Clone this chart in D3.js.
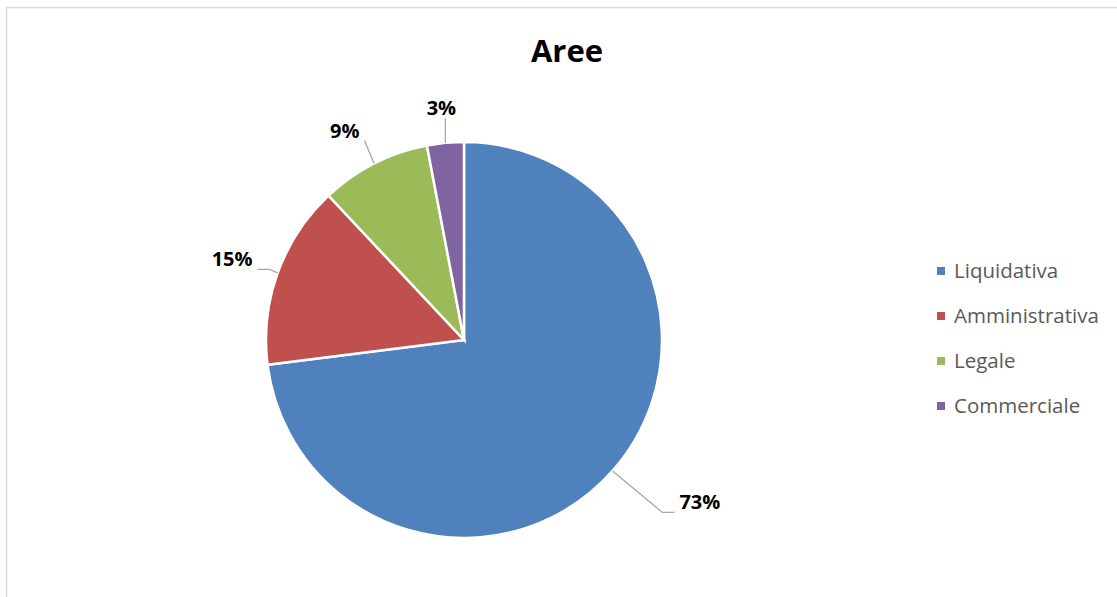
<!DOCTYPE html>
<html>
<head>
<meta charset="utf-8">
<script src="https://cdn.jsdelivr.net/npm/d3@7"></script>
<style>
  body { margin: 0; background: #fff; }
  text { font-family: "Open Sans", Lato, sans-serif; }
</style>
</head>
<body>
<div class="container"></div>
<script>
const WIDTH = 1117;
const HEIGHT = 597;
const RADIUS = 198;
const CX = 464;
const CY = 340;

// data
var categories = ["Liquidativa", "Amministrativa", "Legale", "Commerciale"];
var values = [73, 15, 9, 3];
var colors = ["#4F81BD", "#C0504D", "#9BBB59", "#8064A2"];
var title = "Aree";

// manual nudges for data labels (excel moved some of them)
var labelNudge = [[51, 7], [0, -1], [-10, 0], [0, 2]];

var svg = d3.select(".container")
    .append("svg")
    .attr("width", WIDTH)
    .attr("height", HEIGHT);

// chart border
svg.append("rect")
    .attr("x", 6.5)
    .attr("y", 7.5)
    .attr("width", 1300)
    .attr("height", 800)
    .attr("fill", "none")
    .attr("stroke", "#d9d9d9")
    .attr("stroke-width", 1.5);

svg.append("text")
    .attr("x", 567)
    .attr("y", 62)
    .attr("text-anchor", "middle")
    .attr("font-size", 31)
    .attr("font-weight", "bold")
    .attr("fill", "#000")
    .text(title);

var data = categories.map(function (c, i) {
    return { name: c, value: values[i], color: colors[i], idx: i };
});

var pie = d3.pie()
    .sort(null)
    .value(function (d) { return d.value; });

var arc = d3.arc()
    .innerRadius(0)
    .outerRadius(RADIUS);

var arcs = pie(data);

var g = svg.append("g")
    .attr("transform", "translate(" + CX + "," + CY + ")");

g.selectAll("path.slice")
    .data(arcs)
    .enter()
    .append("path")
    .attr("class", "slice")
    .attr("d", arc)
    .attr("fill", function (d) { return d.data.color; })
    .attr("stroke", "#fff")
    .attr("stroke-width", 2.5);

// labels + leader lines
arcs.forEach(function (d, i) {
    var mid = (d.startAngle + d.endAngle) / 2;
    var dx = Math.sin(mid), dy = -Math.cos(mid);
    var label = g.append("text")
        .attr("font-size", 20)
        .attr("font-weight", "bold")
        .attr("fill", "#000")
        .attr("text-anchor", "middle")
        .text(d.data.value + "%");
    var w = label.node().getComputedTextLength();
    var halfW = w / 2, halfH = 9;
    var ring = RADIUS + 28;
    var lx = dx * ring + dx * halfW + labelNudge[i][0];
    var ly = dy * ring + dy * halfH + labelNudge[i][1];
    label.attr("x", lx).attr("y", ly + 7);

    var sx = dx * RADIUS, sy = dy * RADIUS;
    var x0 = lx - halfW - 5, x1 = lx + halfW + 5;
    var y0 = ly - 11, y1 = ly + 10;
    var pts;
    if (Math.abs(dx) > 0.7) {
        var ex = dx > 0 ? x0 : x1;
        var elbow = dx > 0 ? ex - 12 : ex + 12;
        pts = [[sx, sy], [elbow, y1], [ex, y1]];
    } else {
        var tx = Math.max(x0, Math.min(x1, sx));
        var ty = Math.max(y0, Math.min(y1, sy));
        pts = [[sx, sy], [tx, ty]];
    }
    g.append("path")
        .attr("d", d3.line()(pts))
        .attr("fill", "none")
        .attr("stroke", "#a6a6a6")
        .attr("stroke-width", 1.3);
});

// legend
var legendY = d3.scalePoint()
    .domain(categories)
    .range([271, 406]);

var legend = svg.selectAll("g.legend")
    .data(data)
    .enter()
    .append("g")
    .attr("class", "legend")
    .attr("transform", function (d) { return "translate(937," + legendY(d.name) + ")"; });

legend.append("rect")
    .attr("x", 0)
    .attr("y", -4)
    .attr("width", 8)
    .attr("height", 8)
    .attr("fill", function (d) { return d.color; });

legend.append("text")
    .attr("x", 17)
    .attr("y", 7)
    .attr("font-size", 20.5)
    .attr("fill", "#595959")
    .text(function (d) { return d.name; });
</script>
</body>
</html>
